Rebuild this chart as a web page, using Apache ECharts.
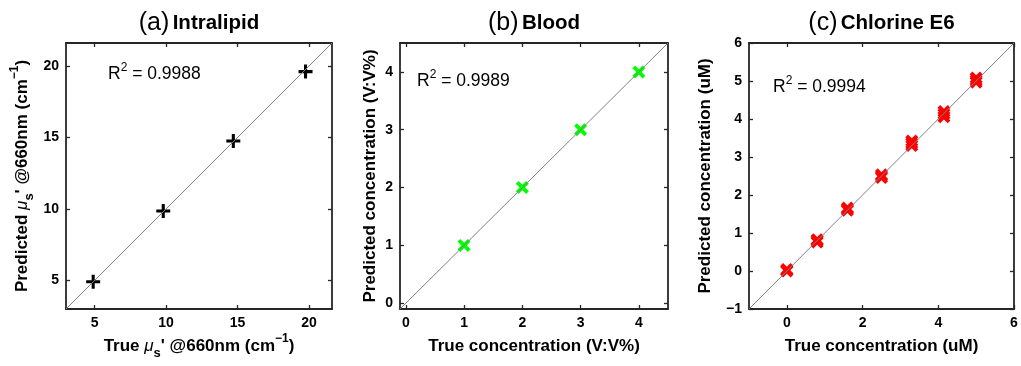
<!DOCTYPE html>
<html><head><meta charset="utf-8">
<script src="https://cdn.jsdelivr.net/npm/echarts@6/dist/echarts.min.js"></script>
<style>html,body{margin:0;padding:0;background:#fff}#c{width:1021px;height:366px}</style>
</head><body><div id="c"></div>
<script>
// ---------- data ----------
const panelTags = ['(a)', '(b)', '(c)'];
const panelNames = ['Intralipid', 'Blood', 'Chlorine E6'];
const r2Values = ['0.9988', '0.9989', '0.9994'];

// (a) Intralipid, reduced scattering @660nm (cm^-1)
const aTrue = [4.9, 9.8, 14.7, 19.75];
const aPred = [4.9, 9.85, 14.75, 19.6];
const aRange = [3, 21.6];
const aTicks = [5, 10, 15, 20];

// (b) Blood (V:V%)
const bTrue = [1, 2, 3, 4];
const bPred = [1.0, 2.0, 3.0, 4.0];
const bRange = [-0.1, 4.5];
const bTicks = [0, 1, 2, 3, 4];

// (c) Chlorine E6 (uM), three replicates per level
const cTrue = [0, 0, 0, 0.8, 0.8, 0.8, 1.6, 1.6, 1.6, 2.5, 2.5, 2.5, 3.3, 3.3, 3.3, 4.15, 4.15, 4.15, 5, 5, 5];
const cPred = [0.0, 0.02, 0.04, 0.76, 0.8, 0.82, 1.6, 1.63, 1.66, 2.46, 2.5, 2.53, 3.3, 3.36, 3.42, 4.06, 4.13, 4.2, 4.97, 5.02, 5.08];
const cRange = [-1, 6];
const cXTicks = [0, 2, 4, 6];
const cYTicks = [-1, 0, 1, 2, 3, 4, 5, 6];

const xNames = ['True {mu|μ}{sub|s}\' @660nm (cm{sup|−1})', 'True concentration (V:V%)', 'True concentration (uM)'];
const yNames = ['Predicted {mu|μ}{sub|s}\' @660nm (cm{sup|−1})', 'Predicted concentration (V:V%)', 'Predicted concentration (uM)'];

// ---------- layout / style ----------
const FONT = '"Liberation Sans", Arial, Helvetica, sans-serif';
const grids = [
  { left: 66, top: 43, width: 266, height: 269 },
  { left: 400, top: 43, width: 268, height: 269 },
  { left: 749, top: 43, width: 265, height: 269 }
];
const yNameGap = [29, 15, 29];
const r2Pos = [[108, 74], [417, 81], [773, 87]];
const AX = '#262626';

const nameRich = {
  mu: { fontFamily: FONT, fontSize: 17, fontStyle: 'italic', fontWeight: 'normal', lineHeight: 30, color: '#000' },
  sub: { fontFamily: FONT, fontSize: 13, fontWeight: 'bold', lineHeight: 13, padding: [14, 0, 0, 0], color: '#000' },
  sup: { fontFamily: FONT, fontSize: 12, fontWeight: 'bold', lineHeight: 12, padding: [0, 0, 14, 0], color: '#000' }
};
const fmt = v => String(v).replace('-', '−');

function axis(gi, pos, range, ticks, showLabel, name, gap) {
  const o = {
    type: 'value', gridIndex: gi, position: pos, min: range[0], max: range[1],
    splitLine: { show: false },
    axisLine: { show: true, onZero: false, lineStyle: { color: AX, width: 1.8 } },
    axisTick: { show: true, inside: true, length: 4, customValues: ticks, lineStyle: { color: AX, width: 1.3 } },
    axisLabel: { show: showLabel, customValues: ticks, formatter: fmt, fontFamily: FONT, fontSize: 14, fontWeight: 'bold', color: '#000', margin: 7, showMinLabel: true, showMaxLabel: true },
    nameMoveOverlap: false
  };
  if (name) {
    o.name = name;
    o.nameLocation = 'middle';
    o.nameGap = gap;
    o.nameTextStyle = { fontFamily: FONT, fontSize: 17, fontWeight: 'bold', color: '#000', lineHeight: 30, rich: nameRich };
  }
  return o;
}

const ranges = [aRange, bRange, cRange];
const xTicks = [aTicks, bTicks, cXTicks];
const yTicks = [aTicks, bTicks, cYTicks];
const xAxes = [], yAxes = [];
for (let i = 0; i < 3; i++) {
  xAxes.push(axis(i, 'bottom', ranges[i], xTicks[i], true, xNames[i], 22));
  xAxes.push(axis(i, 'top', ranges[i], xTicks[i], false));
  yAxes.push(axis(i, 'left', ranges[i], yTicks[i], true, yNames[i], yNameGap[i]));
  yAxes.push(axis(i, 'right', ranges[i], yTicks[i], false));
}

const plusPath = 'path://M3.9,0H6.1V3.9H10V6.1H6.1V10H3.9V6.1H0V3.9H3.9Z';
const xPath = 'path://M0,2.1L2.1,0L5,2.9L7.9,0L10,2.1L7.1,5L10,7.9L7.9,10L5,7.1L2.1,10L0,7.9L2.9,5Z';
const pts = [
  [aTrue, aPred, plusPath, '#000000', 14],
  [bTrue, bPred, xPath, '#00ff00', 13],
  [cTrue, cPred, xPath, '#ff0000', 13]
];
const series = [];
for (let i = 0; i < 3; i++) {
  const [xs, ys, sym, col, sz] = pts[i];
  series.push({
    type: 'scatter', xAxisIndex: 2 * i, yAxisIndex: 2 * i,
    data: xs.map((x, k) => [x, ys[k]]),
    symbol: sym, symbolSize: sz, itemStyle: { color: col, opacity: 1 }, z: 2
  });
  series.push({
    type: 'line', xAxisIndex: 2 * i, yAxisIndex: 2 * i,
    data: [[ranges[i][0], ranges[i][0]], [ranges[i][1], ranges[i][1]]],
    showSymbol: false, symbol: 'none', lineStyle: { color: '#808080', width: 1 }, z: 3
  });
}

const graphic = [];
for (let i = 0; i < 3; i++) {
  const g = grids[i];
  graphic.push({
    type: 'text', x: g.left + g.width / 2, y: 23,
    style: {
      text: '{t|' + panelTags[i] + '} {n|' + panelNames[i] + '}',
      align: 'center', verticalAlign: 'middle', fill: '#000',
      rich: {
        t: { fontFamily: FONT, fontSize: 25, fontWeight: 'normal', fill: '#000' },
        n: { fontFamily: FONT, fontSize: 20.5, fontWeight: 'bold', fill: '#000' }
      }
    }
  });
  graphic.push({
    type: 'text', x: r2Pos[i][0], y: r2Pos[i][1],
    style: {
      text: '{r|R}{s|2}{r| = ' + r2Values[i] + '}',
      align: 'left', verticalAlign: 'middle', fill: '#000',
      rich: {
        r: { fontFamily: FONT, fontSize: 17.5, lineHeight: 26, fill: '#000' },
        s: { fontFamily: FONT, fontSize: 12, lineHeight: 12, padding: [0, 0, 13, 0], fill: '#000' }
      }
    }
  });
}

const chart = echarts.init(document.getElementById('c'), null, { renderer: 'canvas' });
chart.setOption({
  animation: false,
  backgroundColor: '#fff',
  grid: grids.map(g => Object.assign({ containLabel: false, show: false }, g)),
  xAxis: xAxes,
  yAxis: yAxes,
  series: series,
  graphic: graphic
});
</script></body></html>
